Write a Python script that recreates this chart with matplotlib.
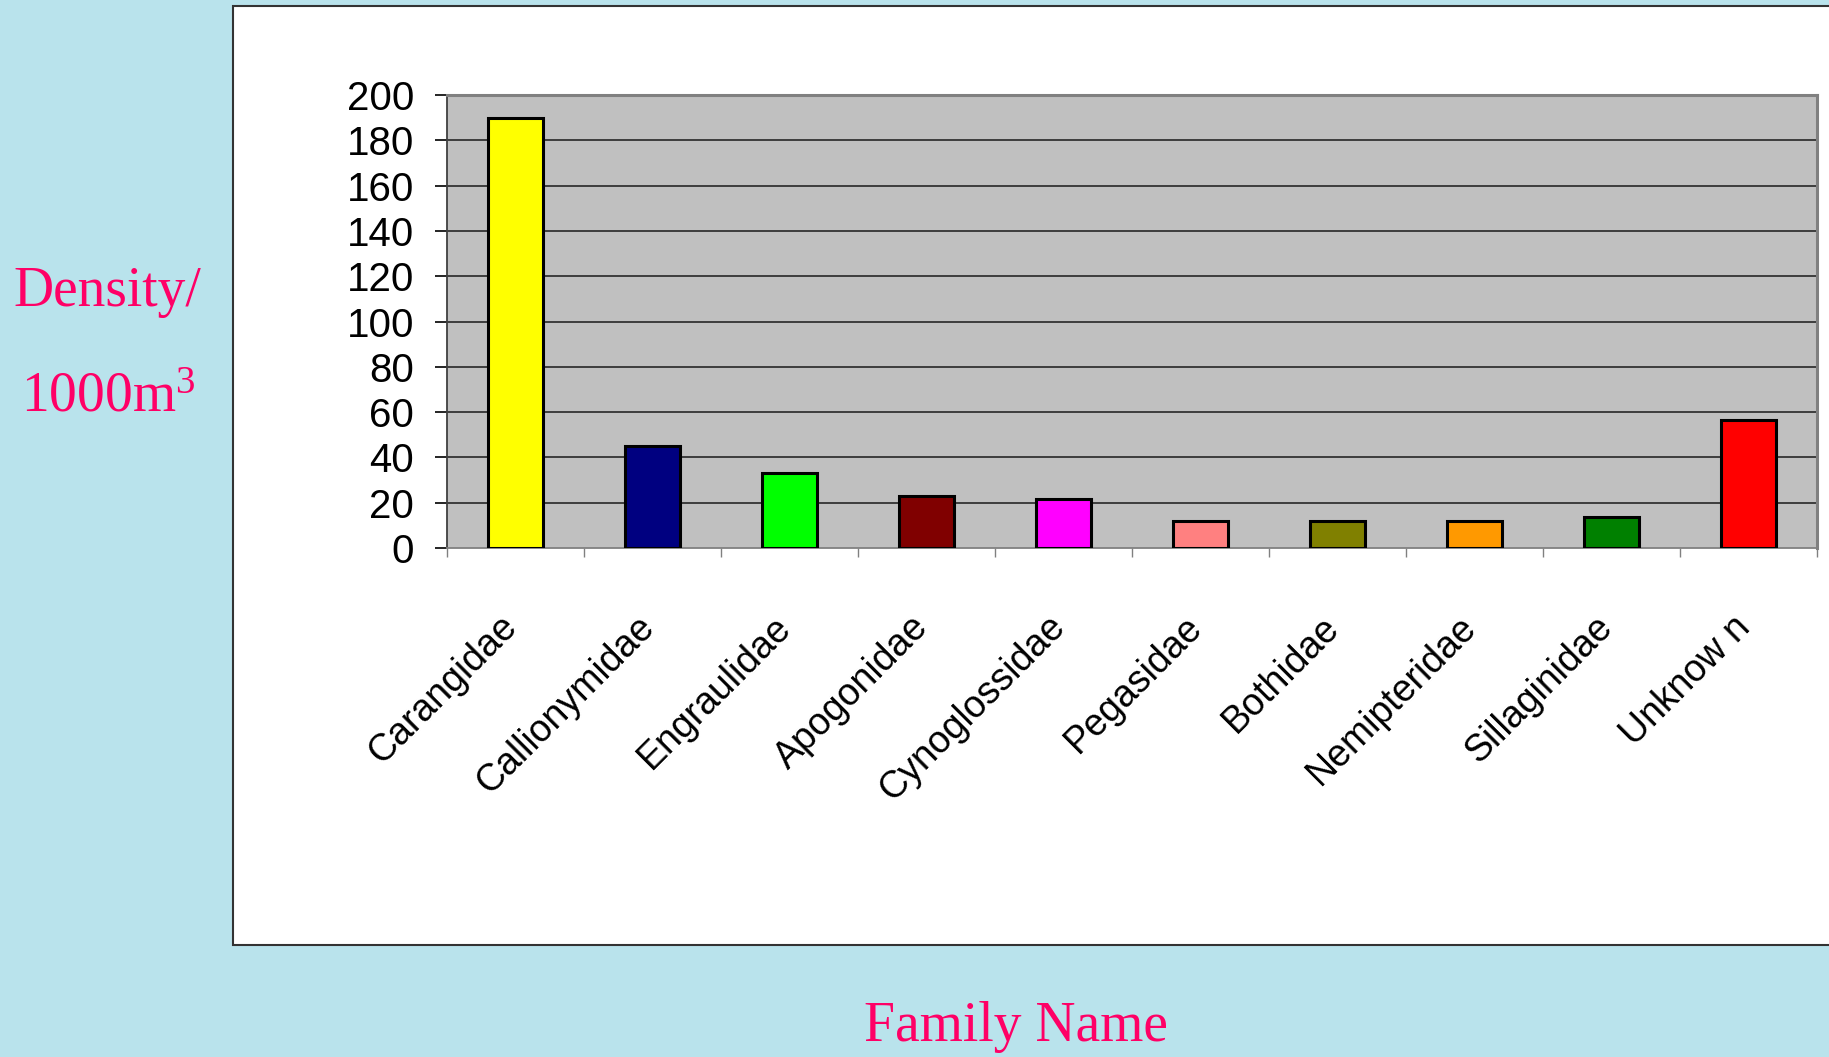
import matplotlib
matplotlib.use("Agg")
import matplotlib.pyplot as plt
from matplotlib.patches import Rectangle
from matplotlib.transforms import ScaledTranslation
import numpy as np

families = ["Carangidae", "Callionymidae", "Engraulidae", "Apogonidae", "Cynoglossidae",
            "Pegasidae", "Bothidae", "Nemipteridae", "Sillaginidae", "Unknow n"]
density = [190, 45, 33, 23, 21.5, 12, 12, 12, 13.5, 56.5]
bar_colors = ["#FFFF00", "#000080", "#00FF00", "#800000", "#FF00FF",
              "#FF8080", "#808000", "#FF9900", "#008000", "#FF0000"]
y_ticks = list(range(0, 201, 20))

W, H = 1829, 1057
fig = plt.figure(figsize=(W / 100, H / 100), dpi=100)
fig.patch.set_facecolor("#b9e3ec")

sans = "Liberation Sans"

# white panel
panel = Rectangle((233 / W, 1 - 945 / H), 1.0, (945 - 6) / H, transform=fig.transFigure,
                  facecolor="white", edgecolor="#333333", linewidth=1.5, zorder=-10)
fig.patches.append(panel)

ax = fig.add_axes([447 / W, 1 - 548 / H, (1817 - 447) / W, (548 - 95) / H])
ax.set_zorder(5)
ax.set_facecolor("#C0C0C0")

x = np.arange(len(families))
ax.bar(x, density, width=0.40, color=bar_colors, edgecolor="black", linewidth=2.2, zorder=3)

ax.set_xlim(-0.5, len(families) - 0.5)
ax.set_ylim(0, 200)

ax.set_yticks(y_ticks)
ax.set_yticklabels([str(v) for v in y_ticks], fontsize=29, family=sans)
ax.tick_params(axis="y", length=8.5, width=1.2, color="black", pad=15)
for v in y_ticks[1:-1]:
    ax.axhline(v, color="#1a1a1a", linewidth=1.1, zorder=1)

# category boundary ticks
ax.set_xticks(np.arange(-0.5, len(families), 1.0))
ax.set_xticklabels([])
ax.tick_params(axis="x", which="major", length=6.5, width=1.0, color="#808080")
ax.set_xticks(x, minor=True)
ax.set_xticklabels(families, minor=True, rotation=45, ha="right", va="center",
                   rotation_mode="anchor", fontsize=27, family=sans)
ax.tick_params(axis="x", which="minor", length=0, pad=53)
shift = ScaledTranslation(-4 / 100, 0, fig.dpi_scale_trans)
for lab in ax.get_xticklabels(minor=True):
    lab.set_transform(lab.get_transform() + shift)

for s in ["top", "right"]:
    ax.spines[s].set_color("#808080")
    ax.spines[s].set_linewidth(2.2)
ax.spines["left"].set_color("#404040")
ax.spines["left"].set_linewidth(1.3)
ax.spines["bottom"].set_color("#808080")
ax.spines["bottom"].set_linewidth(1.3)

pink = "#FF0066"
fig.text(107 / W, 1 - 292 / H, "Density/", fontsize=40, family="Liberation Serif",
         color=pink, ha="center", va="center")
plt.rcParams["mathtext.fontset"] = "custom"
plt.rcParams["mathtext.rm"] = "Liberation Serif"
fig.text(108 / W, 1 - 398 / H, r"1000m$\mathregular{^3}$", fontsize=40, family="Liberation Serif",
         color=pink, ha="center", va="center")
fig.text(1016 / W, 1 - 1027 / H, "Family Name", fontsize=40, family="Liberation Serif",
         color=pink, ha="center", va="center")

fig.savefig("out.png", dpi=100, facecolor=fig.get_facecolor())
